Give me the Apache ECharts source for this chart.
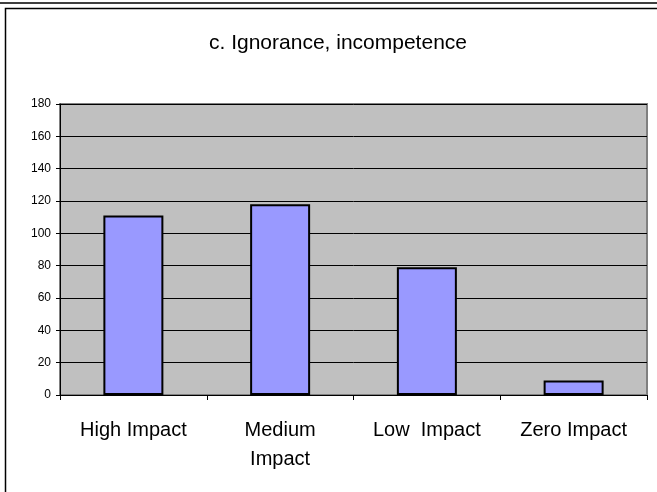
<!DOCTYPE html>
<html>
<head>
<meta charset="utf-8">
<script src="https://cdn.jsdelivr.net/npm/echarts@6/dist/echarts.min.js"></script>
<style>
  html, body { margin: 0; padding: 0; background: #fff; }
  #chart { width: 657px; height: 492px; }
</style>
</head>
<body>
<div id="chart"></div>
<script>
// data
var categories = ['High Impact', 'Medium Impact', 'Low  Impact', 'Zero Impact'];
var counts = [111, 118, 79, 9];
var yTicks = [0, 20, 40, 60, 80, 100, 120, 140, 160, 180];

var myChart = echarts.init(document.getElementById('chart'));

var option = {
    animation: false,
    textStyle: { fontFamily: 'Liberation Sans, Arial, sans-serif' },
    title: {
        text: 'c. Ignorance, incompetence',
        left: 204,
        top: 28,
        textStyle: { fontSize: 21, fontWeight: 'normal', color: '#000' }
    },
    // outer frames like the excel sheet
    graphic: [
        { type: 'rect', shape: { x: -2, y: -10, width: 660, height: 13 },
          style: { fill: 'none', stroke: '#000', lineWidth: 1.5 } },
        { type: 'rect', shape: { x: 5.5, y: 8.5, width: 660, height: 500 },
          style: { fill: 'none', stroke: '#000', lineWidth: 1.5 } }
    ],
    grid: {
        left: 60, right: 10, top: 104, bottom: 97,
        show: true,
        backgroundColor: '#C0C0C0',
        borderColor: '#808080',
        borderWidth: 2
    },
    xAxis: {
        type: 'category',
        data: categories,
        axisLine: { lineStyle: { color: '#000', width: 1 } },
        axisTick: { show: true, length: 5, lineStyle: { color: '#000' } },
        axisLabel: {
            color: '#000',
            fontSize: 20,
            margin: 21,
            lineHeight: 29,
            formatter: function (v) { return v === 'Medium Impact' ? 'Medium\nImpact' : v; }
        }
    },
    yAxis: {
        type: 'value',
        min: yTicks[0],
        max: yTicks[yTicks.length - 1],
        interval: 20,
        axisLine: { show: true, lineStyle: { color: '#000', width: 1 } },
        axisTick: { show: true, length: 4, lineStyle: { color: '#000' } },
        axisLabel: { color: '#000', fontSize: 12, margin: 9 },
        splitLine: { show: true, lineStyle: { color: '#000', width: 1 } }
    },
    series: [{
        name: 'count',
        type: 'bar',
        data: counts,
        barWidth: 60,
        itemStyle: { color: '#9999FF', borderColor: '#000', borderWidth: 2 }
    }]
};

myChart.setOption(option);
</script>
</body>
</html>
